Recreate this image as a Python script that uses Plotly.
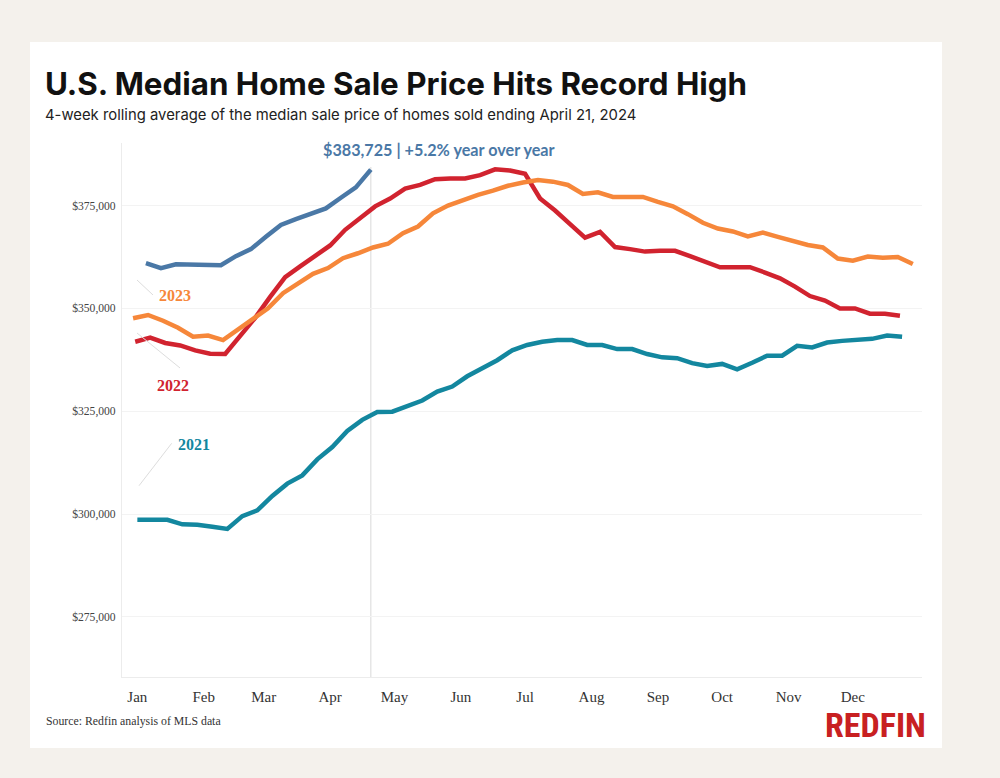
import pandas as pd
import plotly.graph_objects as go

# ---------------- data (weekly, 4-week rolling median sale price) ----------------
start_2021 = "2021-01-03"
start_2022 = "2022-01-02"
start_2023 = "2023-01-01"
start_2024 = "2024-01-07"

values_2021 = [298600, 298600, 298600, 297500, 297400, 296900, 296400, 299500, 300900, 304400,
               307400, 309400, 313300, 316300, 320200, 322900, 324800, 324900, 326300, 327600,
               329800, 331000, 333500, 335300, 337400, 339800, 341100, 341900, 342300, 342300,
               341100, 341100, 340100, 340100, 338900, 338100, 337900, 336700, 336000, 336500,
               335200, 336800, 338500, 338500, 340900, 340500, 341700, 342100, 342300, 342600,
               343400, 343100]

values_2022 = [341900, 342900, 341600, 341000, 339800, 339000, 338900, 343100, 347700, 352800,
               357600, 360200, 362600, 365300, 369100, 372100, 374800, 376700, 379100, 380000,
               381400, 381600, 381600, 382400, 383800, 383500, 382700, 376700, 373800, 370500,
               367200, 368600, 364900, 364400, 363800, 364000, 364000, 362700, 361400, 360000,
               360000, 360000, 358700, 357300, 355300, 353000, 351900, 350000, 350000, 348700,
               348700, 348200]

values_2023 = [347600, 348400, 347000, 345300, 343100, 343400, 342300, 344800, 347200, 350000,
               353700, 356100, 358400, 359800, 362200, 363400, 364800, 365700, 368300, 369900,
               373100, 375000, 376300, 377600, 378600, 379800, 380600, 381200, 380800, 380000,
               377800, 378200, 377100, 377100, 377100, 375900, 374800, 372900, 370800, 369400,
               368700, 367500, 368400, 367400, 366500, 365400, 364800, 362100, 361600, 362600,
               362300, 362500, 360800]

values_2024 = [361000, 359800, 360700, 360700, 360500, 360500, 362700, 364400, 367400, 370300,
               371700, 373100, 374300, 376900, 379400, 383725]

month_labels = ["Jan", "Feb", "Mar", "Apr", "May", "Jun", "Jul", "Aug", "Sep", "Oct", "Nov", "Dec"]
y_ticks = [275000, 300000, 325000, 350000, 375000]
y_tick_text = ["$275,000", "$300,000", "$325,000", "$350,000", "$375,000"]

latest_value_text = "$383,725 | +5.2% year over year"

# ---------------- helpers ----------------
REF_YEAR = 2023
REF_START = pd.Timestamp(f"{REF_YEAR}-01-01")


def week_dates(start, n):
    """Week-ending dates placed on a common Jan–Dec axis by day of year."""
    d = pd.date_range(start, periods=n, freq="7D")
    out = []
    for x in d:
        doy = (x - pd.Timestamp(f"{x.year}-01-01")).days
        out.append((REF_START + pd.Timedelta(days=doy)).strftime("%Y-%m-%d"))
    return out


series = [
    ("2021", start_2021, values_2021, "#13879f"),
    ("2022", start_2022, values_2022, "#d1232f"),
    ("2023", start_2023, values_2023, "#f6873a"),
    ("2024", start_2024, values_2024, "#4a78a6"),
]

fig = go.Figure()
for name, start, vals, color in series:
    fig.add_trace(go.Scatter(
        x=week_dates(start, len(vals)), y=vals, mode="lines", name=name,
        line=dict(color=color, width=4.5), hoverinfo="skip", showlegend=False,
    ))

last_date_2024 = week_dates(start_2024, len(values_2024))[-1]

SERIF = "Liberation Serif, Times New Roman, serif"
SANS = "Inter, Roboto, sans-serif"
BEIGE = "#f4f1ec"

fig.update_layout(
    width=1000, height=778,
    paper_bgcolor=BEIGE,
    plot_bgcolor="white",
    margin=dict(l=122, r=78, t=143, b=101),
    showlegend=False,
    xaxis=dict(
        type="date",
        range=["2022-12-26 20:00", "2024-01-04 07:00"],
        tickvals=[f"{REF_YEAR}-{m:02d}-03" for m in range(1, 13)],
        ticktext=month_labels,
        tickfont=dict(family=SERIF, size=15, color="#333333"),
        showgrid=False, zeroline=False,
        showline=True, linecolor="#ececec", linewidth=1,
        ticks="outside", ticklen=6, tickcolor="rgba(0,0,0,0)",
    ),
    yaxis=dict(
        range=[260400, 390200],
        tickvals=y_ticks, ticktext=y_tick_text,
        tickfont=dict(family=SERIF, size=11.6, color="#444444"),
        showgrid=True, gridcolor="#f3f3f3", gridwidth=1,
        zeroline=False,
        showline=True, linecolor="#ececec", linewidth=1,
        ticks="outside", ticklen=3, tickcolor="rgba(0,0,0,0)",
    ),
)

shapes = [
    # white card
    dict(type="rect", xref="paper", yref="paper", x0=-0.115, x1=1.025, y0=-0.133, y1=1.189,
         fillcolor="white", line=dict(width=0), layer="below"),
    # vertical marker at latest week
    dict(type="line", xref="x", yref="paper", x0=last_date_2024, x1=last_date_2024,
         y0=0, y1=0.955, line=dict(color="#d9d9d9", width=1), layer="below"),
    # leader lines for year labels
    dict(type="line", xref="paper", yref="paper", x0=0.01875, y0=0.7434, x1=0.03875, y1=0.7154,
         line=dict(color="#dddddd", width=1)),
    dict(type="line", xref="paper", yref="paper", x0=0.01875, y0=0.6442, x1=0.0725, y1=0.5787,
         line=dict(color="#dddddd", width=1)),
    dict(type="line", xref="paper", yref="paper", x0=0.02125, y0=0.3582, x1=0.0621, y1=0.4376,
         line=dict(color="#dddddd", width=1)),
]
fig.update_layout(shapes=shapes)

annotations = [
    dict(text="<b>U.S. Median Home Sale Price Hits Record High</b>", xref="paper", yref="paper",
         x=-0.0985, y=1.1105, xanchor="left", yanchor="middle", showarrow=False,
         font=dict(family=SANS, size=31.3, color="#111111")),
    dict(text="4-week rolling average of the median sale price of homes sold ending April 21, 2024",
         xref="paper", yref="paper", x=-0.099, y=1.0524, xanchor="left", yanchor="middle",
         showarrow=False, font=dict(family=SANS, size=14.85, color="#222222")),
    dict(text=f"<b>{latest_value_text}</b>", xref="paper", yref="paper", x=0.2485, y=0.987,
         xanchor="left", yanchor="middle", showarrow=False,
         font=dict(family="Lato, Open Sans, sans-serif", size=16.2, color="#4a78a6")),
    dict(text="<b>2023</b>", xref="paper", yref="paper", x=0.06625, y=0.7135, showarrow=False,
         xanchor="center", yanchor="middle", font=dict(family=SERIF, size=16, color="#f6873a")),
    dict(text="<b>2022</b>", xref="paper", yref="paper", x=0.06375, y=0.5468, showarrow=False,
         xanchor="center", yanchor="middle", font=dict(family=SERIF, size=16, color="#d1232f")),
    dict(text="<b>2021</b>", xref="paper", yref="paper", x=0.09, y=0.4345, showarrow=False,
         xanchor="center", yanchor="middle", font=dict(family=SERIF, size=16, color="#13879f")),
    dict(text="Source: Redfin analysis of MLS data", xref="paper", yref="paper", x=-0.0975, y=-0.0824,
         xanchor="left", yanchor="middle", showarrow=False,
         font=dict(family=SERIF, size=11.8, color="#333333")),
    dict(text="<b>REDFIN</b>", xref="paper", yref="paper", x=1.0075, y=-0.0899,
         xanchor="right", yanchor="middle", showarrow=False,
         font=dict(family="Liberation Sans Narrow, Roboto Condensed, Arial Narrow, sans-serif",
                   size=34, color="#c82021")),
]
fig.update_layout(annotations=annotations)

fig.write_html(
    "out.html",
    config={"displayModeBar": False, "staticPlot": True},
    post_script=(
        "document.documentElement.style.background='" + BEIGE + "';"
        "document.body.style.margin='0';"
        "document.body.style.background='" + BEIGE + "';"
        "document.body.style.overflow='hidden';"
    ),
)
